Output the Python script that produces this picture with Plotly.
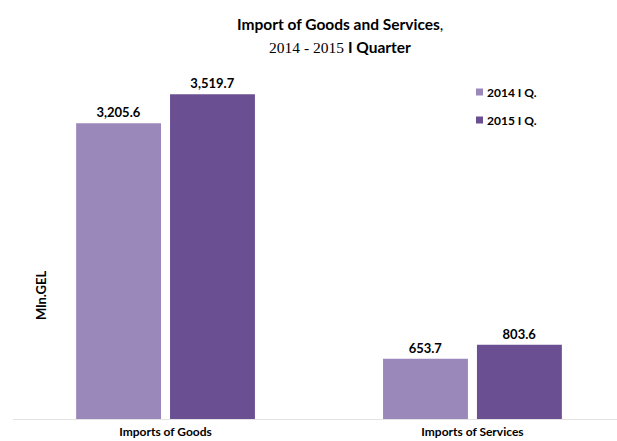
import plotly.graph_objects as go

categories = ["Imports of Goods", "Imports of Services"]
series_names = ["2014 I Q.", "2015 I Q."]
values_2014 = [3205.6, 653.7]
values_2015 = [3519.7, 803.6]
colors = ["#9B88BA", "#6A4F93"]

W, H = 617, 441
ML, MR, MT, MB = 13, 0, 60, 22
plot_w = W - ML - MR
plot_h = H - MT - MB

def px(pix):
    return (pix - ML) / plot_w

def py(pix):
    return (H - MB - pix) / plot_h

fig = go.Figure()
for name, vals, col in zip(series_names, [values_2014, values_2015], colors):
    fig.add_trace(go.Bar(
        x=categories, y=vals, name=name,
        marker=dict(color=col, line=dict(width=0)),
        text=[f"{v:,.1f}" for v in vals], texttemplate="<b>%{text}</b>",
        textposition="outside",
        textfont=dict(family="Lato", size=13, color="#000000"),
        cliponaxis=False, showlegend=False,
    ))

annotations = [
    dict(text="<b>Import of Goods and Services</b>,", x=px(340), y=py(24),
         xref="paper", yref="paper", showarrow=False,
         font=dict(family="Lato", size=15.5, color="#000000"), yanchor="middle"),
    dict(text="<span style='font-family:Liberation Serif'>2014 - 2015</span> <b>I Quarter</b>",
         x=px(340), y=py(47), xref="paper", yref="paper", showarrow=False,
         font=dict(family="Lato", size=15.5, color="#000000"), yanchor="middle"),
    dict(text="<b>Mln.GEL</b>", textangle=-90, x=px(41), y=py(296),
         xref="paper", yref="paper", showarrow=False,
         font=dict(family="Lato", size=13, color="#000000"),
         xanchor="center", yanchor="middle"),
]
shapes = []
legend_y = [92, 120]
for name, col, ly in zip(series_names, colors, legend_y):
    shapes.append(dict(type="rect", xref="paper", yref="paper",
                       x0=px(476), x1=px(483), y0=py(ly - 3.5), y1=py(ly + 3.5),
                       fillcolor=col, line=dict(width=0)))
    annotations.append(dict(text=f"<b>{name}</b>", x=px(485), y=py(ly),
                            xref="paper", yref="paper", showarrow=False,
                            xanchor="left", yanchor="middle",
                            font=dict(family="Lato", size=12, color="#000000")))

fig.update_layout(
    width=W, height=H,
    margin=dict(l=ML, r=MR, t=MT, b=MB),
    paper_bgcolor="white", plot_bgcolor="white",
    barmode="group", bargap=0.388, bargroupgap=0.096,
    font=dict(family="Lato", color="#000000"),
    showlegend=False,
    xaxis=dict(range=[-0.497, 1.471], showline=True, linecolor="#E3E3E3", linewidth=1,
               ticks="", tickfont=dict(family="Lato", size=12, color="#000000"),
               ticklabelstandoff=2,
               tickvals=categories, ticktext=[f"<b>{c}</b>" for c in categories],
               showgrid=False, automargin=False),
    yaxis=dict(range=[0, 3890], showticklabels=False, showgrid=False, zeroline=False,
               showline=False, ticks=""),
    annotations=annotations,
    shapes=shapes,
)

fig.write_html("out.html")
